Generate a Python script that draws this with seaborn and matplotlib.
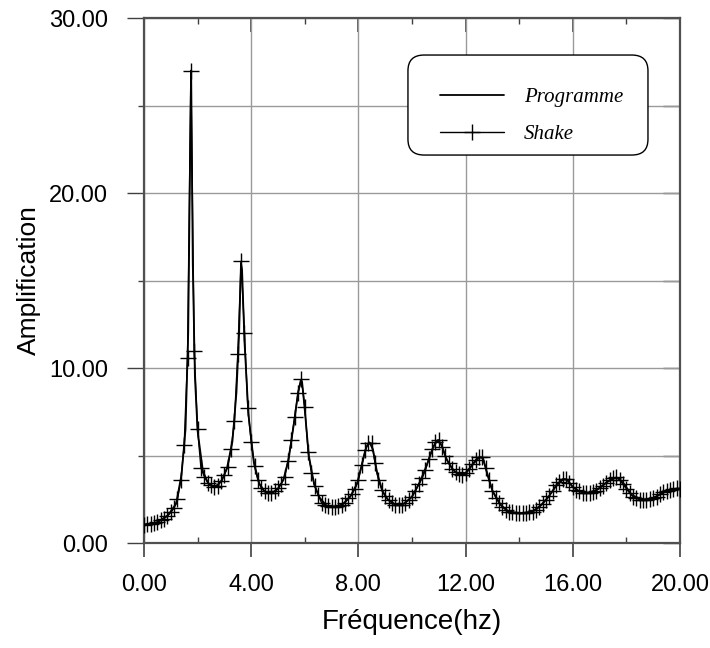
import numpy as np
import pandas as pd
import matplotlib
matplotlib.use("Agg")
import matplotlib.pyplot as plt
from matplotlib.ticker import MultipleLocator, FormatStrFormatter
from matplotlib.patches import FancyBboxPatch
import seaborn as sns

# ---- data ----
# "Programme" curve: frequency (Hz) and amplification
prog_freq = [0.0, 0.5, 0.9, 1.2, 1.4, 1.55, 1.65, 1.72, 1.76, 1.82, 1.9, 2.0, 2.2, 2.4,
             2.65, 2.9, 3.1, 3.3, 3.45, 3.55, 3.62, 3.66, 3.75, 3.9, 4.1, 4.3, 4.5,
             4.75, 5.0, 5.2, 5.4, 5.6, 5.75, 5.85, 5.9, 6.0, 6.15, 6.35, 6.55, 6.8,
             7.1, 7.4, 7.7, 7.95, 8.15, 8.3, 8.42, 8.55, 8.7, 8.9, 9.1, 9.4, 9.7,
             10.0, 10.3, 10.55, 10.8, 10.95, 11.1, 11.3, 11.55, 11.8, 12.05, 12.3,
             12.52, 12.65, 12.8, 13.0, 13.3, 13.6, 14.05, 14.5, 14.8, 15.1, 15.4,
             15.65, 15.8, 16.0, 16.25, 16.55, 16.9, 17.25, 17.55, 17.7, 17.9, 18.2,
             18.6, 19.0, 19.4, 19.7, 20.0]
prog_amp = [1.05, 1.18, 1.6, 2.25, 3.9, 6.5, 12.0, 22.0, 27.0, 16.0, 9.5, 6.4, 4.1, 3.4,
            3.2, 3.55, 4.3, 5.8, 8.6, 12.0, 16.0, 15.6, 11.5, 7.3, 4.6, 3.4, 2.95,
            2.84, 3.1, 3.6, 4.8, 6.9, 8.6, 9.3, 9.2, 7.6, 5.0, 3.35, 2.6, 2.15,
            2.07, 2.2, 2.65, 3.4, 4.6, 5.5, 5.75, 5.3, 4.0, 2.95, 2.48, 2.18, 2.25,
            2.65, 3.5, 4.45, 5.5, 5.88, 5.6, 4.75, 4.15, 3.9, 4.05, 4.55,
            4.9, 4.85, 4.0, 3.0, 2.2, 1.8, 1.7, 1.8, 2.15, 2.65, 3.3,
            3.65, 3.6, 3.2, 2.95, 2.85, 3.05, 3.45, 3.72, 3.72, 3.4, 2.75,
            2.47, 2.58, 2.9, 3.08, 3.12]

# "Shake" curve: sampled every 0.125 Hz from 0 to 20 Hz
shake_step = 0.125
shake_amp = [
    1.05, 1.07, 1.10, 1.15, 1.20, 1.30, 1.40, 1.55,            # 0.000 - 0.875
    1.75, 2.00, 2.50, 3.60, 5.60, 10.6, 27.0, 11.0,            # 1.000 - 1.875
    6.50, 4.30, 3.80, 3.45, 3.30, 3.20, 3.25, 3.55,            # 2.000 - 2.875
    3.90, 4.35, 5.40, 7.00, 10.8, 16.1, 12.0, 7.70,            # 3.000 - 3.875
    5.80, 4.40, 3.60, 3.15, 2.95, 2.87, 2.84, 2.95,            # 4.000 - 4.875
    3.12, 3.40, 3.80, 4.70, 5.90, 7.20, 8.60, 9.35,            # 5.000 - 5.875
    7.80, 5.20, 4.00, 3.25, 2.75, 2.30, 2.17, 2.10,            # 6.000 - 6.875
    2.08, 2.07, 2.10, 2.18, 2.30, 2.55, 2.80, 3.10,            # 7.000 - 7.875
    3.60, 4.45, 5.30, 5.70, 5.70, 4.55, 3.60, 3.05,            # 8.000 - 8.875
    2.70, 2.45, 2.30, 2.20, 2.17, 2.20, 2.30, 2.45,            # 9.000 - 9.875
    2.65, 2.95, 3.35, 3.70, 4.15, 4.80, 5.35, 5.75,            # 10.000 - 10.875
    5.90, 5.50, 4.95, 4.55, 4.25, 4.05, 3.92, 3.90,            # 11.000 - 11.875
    4.02, 4.25, 4.50, 4.75, 4.90, 4.90, 4.30, 3.60,            # 12.000 - 12.875
    3.00, 2.60, 2.30, 2.05, 1.90, 1.80, 1.75, 1.72,            # 13.000 - 13.875
    1.70, 1.70, 1.72, 1.75, 1.80, 1.90, 2.05, 2.25,            # 14.000 - 14.875
    2.45, 2.70, 3.00, 3.30, 3.50, 3.65, 3.65, 3.45,            # 15.000 - 15.875
    3.20, 3.05, 2.95, 2.88, 2.85, 2.85, 2.90, 3.00,            # 16.000 - 16.875
    3.12, 3.28, 3.45, 3.60, 3.72, 3.75, 3.60, 3.35,            # 17.000 - 17.875
    3.10, 2.85, 2.65, 2.55, 2.48, 2.45, 2.46, 2.50,            # 18.000 - 18.875
    2.58, 2.65, 2.78, 2.90, 3.00, 3.05, 3.10, 3.12,            # 19.000 - 19.875
    3.10,                                                      # 20.000
]
shake_freq = [round(i * shake_step, 3) for i in range(len(shake_amp))]

x_label = "Fréquence(hz)"
y_label = "Amplification"
series_names = ["Programme", "Shake"]

# ---- figure ----
sns.set_style("white")
plt.rcParams["font.family"] = ["Liberation Sans", "DejaVu Sans"]
plt.rcParams["text.color"] = "black"
plt.rcParams["axes.labelcolor"] = "black"
plt.rcParams["xtick.color"] = "black"
plt.rcParams["ytick.color"] = "black"

fig = plt.figure(figsize=(7.10, 6.48), dpi=100)
ax = fig.add_axes([0.2028, 0.162, 0.7549, 0.8102])

df_prog = pd.DataFrame({"f": prog_freq, "a": prog_amp})
df_shake = pd.DataFrame({"f": shake_freq, "a": shake_amp})

sns.lineplot(data=df_prog, x="f", y="a", ax=ax, color="black", linewidth=1.3,
             label=series_names[0], zorder=3)
sns.lineplot(data=df_shake, x="f", y="a", ax=ax, color="black", linewidth=1.0,
             marker="+", markersize=11, markeredgewidth=1.0, markeredgecolor="black",
             label=series_names[1], zorder=4)

ax.set_xlim(0, 20)
ax.set_ylim(0, 30)
ax.xaxis.set_major_locator(MultipleLocator(4))
ax.xaxis.set_minor_locator(MultipleLocator(2))
ax.yaxis.set_major_locator(MultipleLocator(10))
ax.yaxis.set_minor_locator(MultipleLocator(5))
ax.xaxis.set_major_formatter(FormatStrFormatter("%.2f"))
ax.yaxis.set_major_formatter(FormatStrFormatter("%.2f"))

ax.grid(True, which="major", axis="x", color="#9a9a9a", linewidth=1.0)
ax.grid(True, which="both", axis="y", color="#9a9a9a", linewidth=1.0)
ax.set_axisbelow(True)

for s in ax.spines.values():
    s.set_visible(True)
    s.set_color("#505050")
    s.set_linewidth(1.6)

ax.tick_params(axis="x", which="major", direction="out", length=10, width=1.2,
               color="#404040", labelsize=17, labelcolor="black", pad=12, bottom=True)
ax.tick_params(axis="x", which="minor", direction="in", length=4, width=1.0,
               color="#404040", bottom=True)
ax.tick_params(axis="y", which="major", direction="out", length=12, width=1.0,
               color="#404040", labelsize=17, labelcolor="black", pad=14, left=True)
ax.tick_params(axis="y", which="minor", direction="out", length=4, width=1.0,
               color="#404040", left=True)

# top and right ticks (inward)
top = ax.secondary_xaxis("top")
top.xaxis.set_major_locator(MultipleLocator(4))
top.xaxis.set_minor_locator(MultipleLocator(2))
top.tick_params(which="major", direction="in", length=10, width=1.2, color="#404040",
                labeltop=False)
top.tick_params(which="minor", direction="in", length=4, width=1.0, color="#404040")
top.spines["top"].set_visible(False)
right = ax.secondary_yaxis("right")
right.yaxis.set_major_locator(MultipleLocator(10))
right.yaxis.set_minor_locator(MultipleLocator(5))
right.tick_params(which="major", direction="in", length=12, width=1.0, color="#404040",
                  labelright=False)
right.tick_params(which="minor", direction="in", length=12, width=1.0, color="#404040")
right.spines["right"].set_visible(False)

ax.set_xlabel(x_label, fontsize=20, color="black")
ax.set_ylabel(y_label, fontsize=19, color="black")
ax.xaxis.label.set_va("center")
ax.yaxis.label.set_va("center")
ax.xaxis.set_label_coords(0.5, -0.15)
ax.yaxis.set_label_coords(-0.215, 0.5)

# legend: entries without frame, plus a rounded box drawn separately
leg = ax.legend(loc="upper left", bbox_to_anchor=(0.552, 0.868),
                prop={"family": ["Liberation Serif"], "style": "italic", "size": 15},
                handlelength=3.1, handletextpad=0.95, borderpad=0.0, labelspacing=0.85,
                borderaxespad=0, frameon=False)
for h in leg.legend_handles:
    h.set_color("black")
for t in leg.get_texts():
    t.set_color("black")

box = FancyBboxPatch((0.4925, 0.739), 0.4478, 0.1905, transform=ax.transAxes,
                     boxstyle="round,pad=0,rounding_size=0.03",
                     facecolor="white", edgecolor="black", linewidth=1.0, zorder=5)
ax.add_patch(box)
leg.set_zorder(6)

fig.savefig("out.png", dpi=100)
